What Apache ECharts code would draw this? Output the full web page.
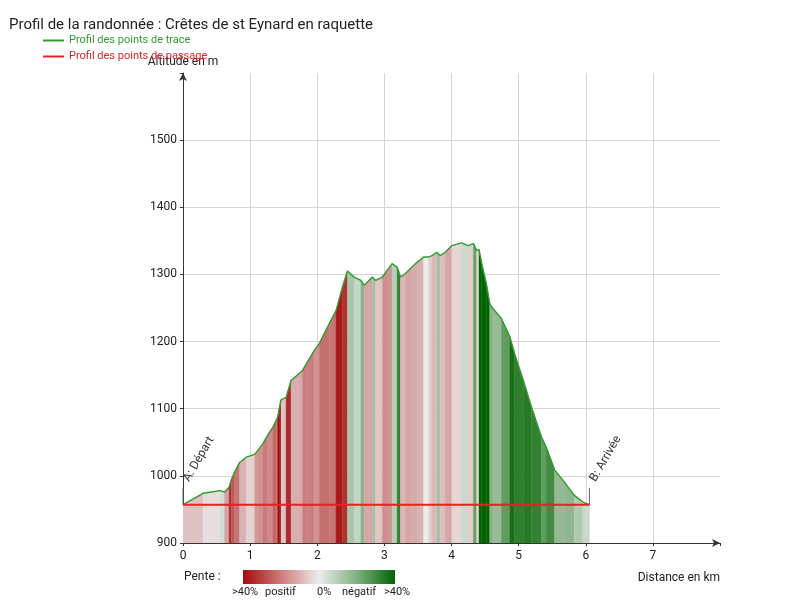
<!DOCTYPE html>
<html>
<head>
<meta charset="utf-8">
<script src="https://cdn.jsdelivr.net/npm/echarts@6/dist/echarts.min.js"></script>
<style>
html,body{margin:0;padding:0;background:#fff;}
#chart{width:800px;height:613px;}
</style>
</head>
<body>
<div id="chart"></div>
<script>
// Distance (km) and altitude (m) read from the profile
const distKm = [0, 0.30, 0.425, 0.55, 0.62, 0.656, 0.686, 0.72, 0.77, 0.844,
  0.944, 1.067, 1.116, 1.19, 1.264, 1.338, 1.39, 1.41, 1.437, 1.46,
  1.536, 1.61, 1.78, 1.856, 1.956, 2.03, 2.13, 2.18, 2.28, 2.375,
  2.45, 2.55, 2.65, 2.70, 2.77, 2.82, 2.87, 2.97, 3.04, 3.115,
  3.19, 3.24, 3.31, 3.41, 3.486, 3.585, 3.66, 3.71, 3.78, 3.83,
  3.907, 4.005, 4.15, 4.25, 4.326, 4.375, 4.41, 4.45, 4.52, 4.57,
  4.62, 4.745, 4.87, 4.94, 5.07, 5.19, 5.34, 5.41, 5.536, 5.68,
  5.83, 5.956, 6.055];
const altitudeM = [957, 974, 976, 978, 976, 980, 983, 994, 1006, 1020,
  1028, 1032, 1038, 1048, 1061, 1072, 1083, 1087, 1102, 1113,
  1117, 1142, 1157, 1170, 1187, 1197, 1217, 1227, 1246, 1281,
  1305, 1296, 1291, 1284, 1291, 1296, 1291, 1296, 1306, 1316,
  1311, 1296, 1301, 1311, 1318, 1326, 1326, 1328, 1333, 1328,
  1333, 1343, 1347, 1343, 1346, 1336, 1337, 1316, 1286, 1256,
  1249, 1234, 1207, 1182, 1142, 1103, 1058, 1043, 1009, 991,
  971, 961, 957];
// Passage points (A: start, B: finish)
const passageNames = ['A: Départ', 'B: Arrivée'];
const passageDist = [0, 6.055];
const passageAlt = [957, 957];
// Axis ticks
const xTicks = [0, 1, 2, 3, 4, 5, 6, 7];
const yTicks = [900, 1000, 1100, 1200, 1300, 1400, 1500];
// Slope legend labels
const penteLabels = ['>40%', 'positif', '0%', 'négatif', '>40%'];

const FONT = 'Roboto, "Noto Sans", sans-serif';

function mix(a, b, t) {
  return 'rgb(' + a.map((v, i) => Math.round(v + (b[i] - v) * t)).join(',') + ')';
}
function slopeColor(s) {
  const t = Math.min(Math.abs(s) / 40, 1);
  const base = [236, 236, 236];
  const end = s >= 0 ? [165, 10, 10] : [0, 100, 0];
  return mix(base, end, Math.pow(t, 0.85));
}

const segments = [];
const segColors = [];
for (let i = 0; i < distKm.length - 1; i++) {
  segments.push([distKm[i], altitudeM[i], distKm[i + 1], altitudeM[i + 1]]);
  const slope = (altitudeM[i + 1] - altitudeM[i]) / ((distKm[i + 1] - distKm[i]) * 1000) * 100;
  segColors.push(slopeColor(slope));
}

const chart = echarts.init(document.getElementById('chart'), null, {renderer: 'canvas'});
const gridLeft = 183, gridRight = 80, gridTop = 73, gridBottom = 70;

const option = {
  animation: false,
  textStyle: {fontFamily: FONT},
  title: {
    text: 'Profil de la randonnée : Crêtes de st Eynard en raquette',
    left: 4, top: 13,
    textStyle: {fontFamily: FONT, fontSize: 15, fontWeight: 'normal', color: '#222'}
  },
  legend: {
    orient: 'vertical', left: 43, top: 35, itemGap: 5, padding: 0,
    itemWidth: 21, itemHeight: 13, icon: 'path://M0,5.5L21,5.5L21,7.5L0,7.5Z',
    data: [
      {name: 'Profil des points de trace', textStyle: {color: '#2f9e2f'}, itemStyle: {color: '#2f9e2f'}},
      {name: 'Profil des points de passage', textStyle: {color: '#e52222'}, itemStyle: {color: '#e52222'}}
    ],
    textStyle: {fontFamily: FONT, fontSize: 11}
  },
  grid: {left: gridLeft, right: gridRight, top: gridTop, bottom: gridBottom, containLabel: false},
  xAxis: {
    type: 'value', min: 0, max: 8, interval: 1,
    name: 'Distance en km', nameLocation: 'end', nameGap: 0,
    nameTextStyle: {fontFamily: FONT, fontSize: 12, color: '#222', align: 'right', verticalAlign: 'top', padding: [29, 0, 0, 0]},
    axisLine: {show: true, symbol: ['none', 'arrow'], symbolSize: [6, 8], lineStyle: {color: '#333', width: 1}},
    axisTick: {show: true, length: 3, inside: false, lineStyle: {color: '#333'}},
    axisLabel: {fontFamily: FONT, fontSize: 12, color: '#222', margin: 7,
      formatter: v => xTicks.indexOf(v) >= 0 ? String(v) : ''},
    splitLine: {show: true, showMinLine: false, showMaxLine: false, lineStyle: {color: '#d4d4d4', width: 1}}
  },
  yAxis: {
    type: 'value', min: 900, max: 1600, interval: 100,
    name: 'Altitude en m', nameLocation: 'end', nameGap: 5,
    nameTextStyle: {fontFamily: FONT, fontSize: 12, color: '#222'},
    axisLine: {show: true, symbol: ['none', 'arrow'], symbolSize: [6, 8], lineStyle: {color: '#333', width: 1}},
    axisTick: {show: true, length: 3, lineStyle: {color: '#333'}},
    axisLabel: {fontFamily: FONT, fontSize: 12, color: '#222', margin: 6,
      formatter: v => yTicks.indexOf(v) >= 0 ? String(v) : ''},
    splitLine: {show: true, showMinLine: false, showMaxLine: false, lineStyle: {color: '#d4d4d4', width: 1}}
  },
  series: [
    {
      type: 'custom',
      name: 'pente',
      data: segments,
      encode: {x: [0, 2], y: [1, 3]},
      clip: true,
      z: 2,
      silent: true,
      renderItem: function (params, api) {
        const x0 = api.value(0), y0 = api.value(1), x1 = api.value(2), y1 = api.value(3);
        const pts = [api.coord([x0, 900]), api.coord([x0, y0]), api.coord([x1, y1]), api.coord([x1, 900])];
        const c = segColors[params.dataIndex];
        return {type: 'polygon', shape: {points: pts}, style: {fill: c, stroke: c, lineWidth: 0.4}};
      }
    },
    {
      type: 'line',
      name: 'Profil des points de trace',
      data: distKm.map((d, i) => [d, altitudeM[i]]),
      symbol: 'none', showSymbol: false,
      lineStyle: {color: '#2f9e2f', width: 1.4},
      itemStyle: {color: '#2f9e2f'},
      z: 3
    },
    {
      type: 'line',
      name: 'Profil des points de passage',
      data: passageDist.map((d, i) => [d, passageAlt[i]]),
      symbol: 'none', showSymbol: false,
      lineStyle: {color: '#e52222', width: 2},
      itemStyle: {color: '#e52222'},
      z: 4,
      markPoint: {
        symbol: 'rect',
        symbolSize: [1, 17],
        symbolOffset: [0, -8.5],
        itemStyle: {color: '#666'},
        label: {
          show: true, position: 'top', distance: 1,
          offset: [7, 0],
          rotate: 60, align: 'left', verticalAlign: 'middle',
          fontFamily: FONT, fontSize: 12, color: '#333',
          formatter: p => p.name
        },
        data: passageNames.map((n, i) => ({name: n, coord: [passageDist[i], passageAlt[i]]}))
      }
    }
  ],
  graphic: [
    {type: 'text', left: 184, top: 571, style: {text: 'Pente :', font: '12px ' + FONT, fill: '#222'}},
    {type: 'rect', left: 243, top: 570, shape: {width: 152, height: 14},
      style: {fill: new echarts.graphic.LinearGradient(0, 0, 1, 0, [
        {offset: 0, color: '#a50a0a'},
        {offset: 0.25, color: '#cf7a7a'},
        {offset: 0.5, color: '#ececec'},
        {offset: 0.75, color: '#7fb07f'},
        {offset: 1, color: '#006400'}
      ])}},
    {type: 'text', left: 232, top: 587, style: {text: penteLabels[0], font: '11px ' + FONT, fill: '#222'}},
    {type: 'text', left: 265, top: 587, style: {text: penteLabels[1], font: '11px ' + FONT, fill: '#222'}},
    {type: 'text', left: 317, top: 587, style: {text: penteLabels[2], font: '11px ' + FONT, fill: '#222'}},
    {type: 'text', left: 342, top: 587, style: {text: penteLabels[3], font: '11px ' + FONT, fill: '#222'}},
    {type: 'text', left: 384, top: 587, style: {text: penteLabels[4], font: '11px ' + FONT, fill: '#222'}}
  ]
};
chart.setOption(option);
</script>
</body>
</html>
